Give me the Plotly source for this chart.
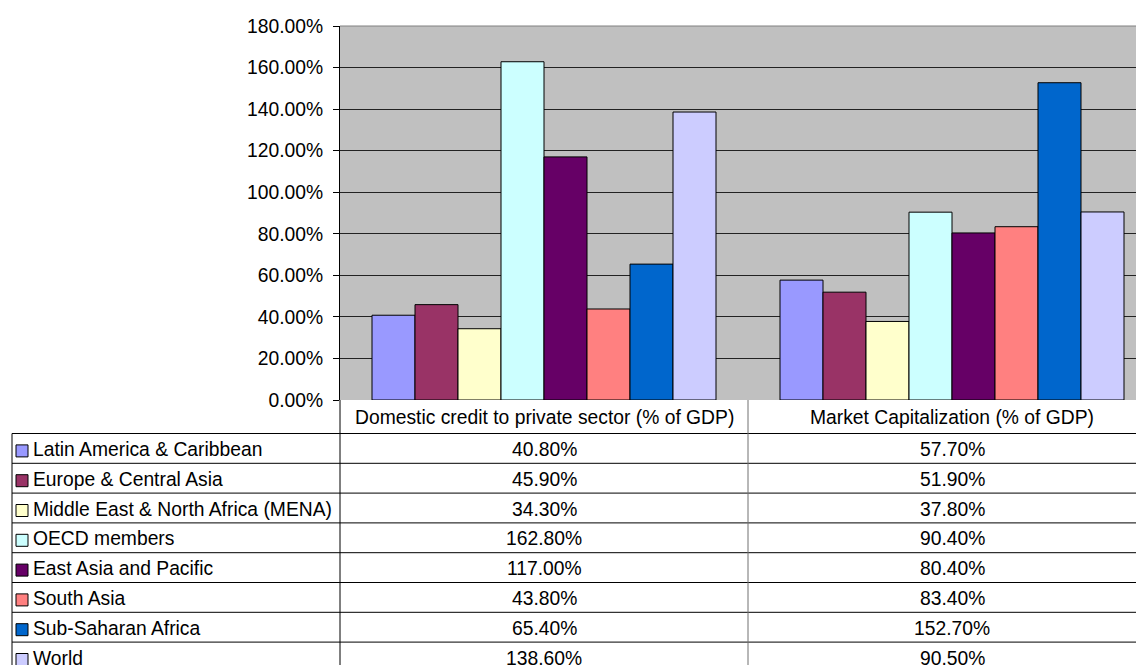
import plotly.graph_objects as go

# ---- data ----
categories = ["Domestic credit to private sector (% of GDP)", "Market Capitalization (% of GDP)"]
regions = [
    "Latin America & Caribbean",
    "Europe & Central Asia",
    "Middle East & North Africa (MENA)",
    "OECD members",
    "East Asia and Pacific",
    "South Asia",
    "Sub-Saharan Africa",
    "World",
]
domestic_credit = [40.8, 45.9, 34.3, 162.8, 117.0, 43.8, 65.4, 138.6]
market_cap = [57.7, 51.9, 37.8, 90.4, 80.4, 83.4, 152.7, 90.5]
y_ticks = [0, 20, 40, 60, 80, 100, 120, 140, 160, 180]
y_tick_labels = [f"{v:.2f}%" for v in y_ticks]

# ---- styles / layout ----
colors = ["#9999FF", "#993366", "#FFFFCC", "#CCFFFF", "#660066", "#FF8080", "#0066CC", "#CCCCFF"]
FONT = "Arial, Liberation Sans, sans-serif"
FS = 19.3

OFF = 8  # page body margin
SW, SH = 1144, 665  # screen size
W, H = SW - OFF, SH - OFF
# screen-pixel geometry of the plot area
PL, PT, PB = 340, 26, 400
L, T, B = PL - OFF, PT - OFF, H - (PB - OFF)
PW = W - L
PH = H - T - B
CAT_PX = 408.0
x_max = -0.5 + PW / CAT_PX


def xp(px):
    """screen x pixel -> paper"""
    return (px - OFF - L) / PW


def yp(py):
    """screen y pixel -> paper"""
    return (H - B - (py - OFF)) / PH


def x_data_to_paper(xv):
    return (xv + 0.5) / (x_max + 0.5)


fig = go.Figure()
x_idx = list(range(len(categories)))
for i, r in enumerate(regions):
    fig.add_bar(
        x=x_idx,
        y=[domestic_credit[i], market_cap[i]],
        name=r,
        marker=dict(color=colors[i], line=dict(color="black", width=1)),
        showlegend=False,
    )

annotations = []
shapes = []

# header row (category labels)
for j, c in enumerate(categories):
    annotations.append(dict(x=j, xref="x", y=yp(417), yref="paper", text=c,
                            showarrow=False, xanchor="center", yanchor="middle",
                            font=dict(family=FONT, size=FS, color="black")))

row_top = 433.5
row_h = 29.8
series_by_cat = [domestic_credit, market_cap]
for i, r in enumerate(regions):
    cy = row_top + row_h * (i + 0.5)
    annotations.append(dict(x=xp(31), xref="paper", y=yp(cy + 1), yref="paper", text=r,
                            showarrow=False, xanchor="left", yanchor="middle",
                            font=dict(family=FONT, size=FS, color="black")))
    for j in range(len(categories)):
        annotations.append(dict(x=j, xref="x", y=yp(cy + 1), yref="paper",
                                text=f"{series_by_cat[j][i]:.2f}%",
                                showarrow=False, xanchor="center", yanchor="middle",
                                font=dict(family=FONT, size=FS, color="black")))
    # legend key
    shapes.append(dict(type="rect", xref="paper", yref="paper",
                       x0=xp(16), x1=xp(28), y0=yp(cy + 2.5 - 6), y1=yp(cy + 2.5 + 6),
                       fillcolor=colors[i], line=dict(color="black", width=1)))
    # row separator lines
    shapes.append(dict(type="line", xref="paper", yref="paper",
                       x0=xp(12), x1=1.0, y0=yp(row_top + row_h * i), y1=yp(row_top + row_h * i),
                       line=dict(color="black", width=1)))

# vertical table lines
bottom = yp(SH + 5)
shapes.append(dict(type="line", xref="paper", yref="paper", x0=xp(12), x1=xp(12),
                   y0=yp(row_top), y1=bottom, line=dict(color="black", width=1)))
for xv in [-0.5, 0.5]:
    xpv = x_data_to_paper(xv)
    shapes.append(dict(type="line", xref="paper", yref="paper", x0=xpv, x1=xpv,
                       y0=0, y1=bottom, line=dict(color="black" if xv < 0 else "#707070", width=1)))

# lighter top border of plot area (180% line)
shapes.append(dict(type="line", xref="paper", yref="paper", x0=0, x1=1, y0=1, y1=1,
                   line=dict(color="#808080", width=1)))

fig.update_layout(
    width=W, height=H,
    margin=dict(l=L, r=0, t=T, b=B, pad=0),
    paper_bgcolor="white",
    plot_bgcolor="#C0C0C0",
    barmode="group",
    bargap=64 / 408,
    bargroupgap=0,
    font=dict(family=FONT, size=FS, color="black"),
    annotations=annotations,
    shapes=shapes,
    xaxis=dict(range=[-0.5, x_max], showticklabels=False, showgrid=False,
               zeroline=False, showline=False, ticks=""),
    yaxis=dict(range=[0, 180], tickmode="array", tickvals=y_ticks, ticktext=y_tick_labels,
               showgrid=True, gridcolor="#222222", gridwidth=1,
               zeroline=False, showline=True, linecolor="black", linewidth=1,
               ticks="outside", ticklen=6, tickcolor="black",
               ticklabelstandoff=6,
               tickfont=dict(family=FONT, size=FS, color="black")),
)

fig.write_html("out.html")
